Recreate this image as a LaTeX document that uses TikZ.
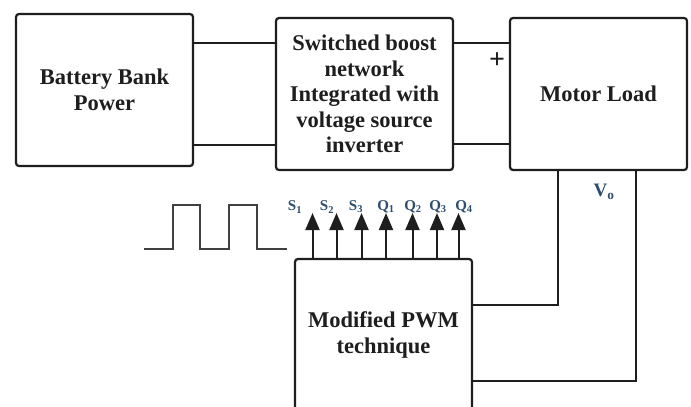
\documentclass[tikz,border=0pt]{standalone}
\usepackage{fontspec}
\setmainfont{Liberation Serif}[BoldFont={Liberation Serif Bold}]
\usetikzlibrary{arrows.meta,calc}
\definecolor{ink}{HTML}{1E1E1E}
\definecolor{lbl}{HTML}{2E4D6E}
\begin{document}
\begin{tikzpicture}[x=1pt,y=1pt,
  blockbox/.style={draw=ink,line width=2.2pt,rounded corners=3pt,minimum width=177pt,minimum height=152pt,inner sep=0pt,align=center,text=ink,font=\bfseries\fontsize{22.5}{25.5}\selectfont},
  wire/.style={draw=ink,line width=2pt},
  sig/.style={draw=ink,line width=2pt,-{Triangle[length=17pt,width=14pt]}},
  siglabel/.style={text=lbl,font=\bfseries\fontsize{15}{15}\selectfont,inner sep=0pt}]
\clip (0,0) rectangle (691,-407);
\fill[white] (0,0) rectangle (691,-407);
\node[blockbox] (bat) at (104.5,-90) {Battery Bank\\Power};
\node[blockbox] (mid) at (364.5,-94) {Switched boost\\network\\Integrated with\\voltage source\\inverter};
\node[blockbox] (mot) at (598.5,-94) {Motor Load};
\node[blockbox,minimum height=171pt] (pwm) at (383.5,-344.5) {};
\node[text=ink,align=center,inner sep=0pt,font=\bfseries\fontsize{22.5}{25.5}\selectfont] (pwmtext) at (383.5,-335) {Modified PWM\\technique};
% power connections
\draw[wire] (bat.east |- 0,-43) -- (mid.west |- 0,-43);
\draw[wire] (bat.east |- 0,-145) -- (mid.west |- 0,-145);
\draw[wire] (mid.east |- 0,-43) -- (mot.west |- 0,-43);
\draw[wire] (mid.east |- 0,-144) -- (mot.west |- 0,-144);
\node[text=ink,font=\bfseries\fontsize{28}{28}\selectfont,inner sep=0pt] (plus) at (497,-61) {+};
% feedback
\draw[wire] (mot.south -| 558,0) |- (pwm.east |- 0,-305);
\draw[wire] (mot.south -| 636,0) |- (pwm.east |- 0,-381);
\node[text=lbl,font=\bfseries\fontsize{19}{19}\selectfont,inner sep=0pt] (vo) at (604,-192) {V\textsubscript{o}};
% gate signals
\foreach \x/\n in {312.5/s1,336.5/s2,361.5/s3,386/q1,412.5/q2,437/q3,458.5/q4}{
  \coordinate (\n) at (\x,-213);
  \draw[sig] (pwm.north -| \x,0) -- (\n);
}
\node[siglabel] (ls1) at (295,-207) {S\textsubscript{1}};
\node[siglabel] (ls2) at (327,-207) {S\textsubscript{2}};
\node[siglabel] (ls3) at (356,-207) {S\textsubscript{3}};
\node[siglabel] (lq1) at (386,-207) {Q\textsubscript{1}};
\node[siglabel] (lq2) at (413,-207) {Q\textsubscript{2}};
\node[siglabel] (lq3) at (438,-207) {Q\textsubscript{3}};
\node[siglabel] (lq4) at (464,-207) {Q\textsubscript{4}};
% pulse waveform
\draw[draw=ink!85,line width=1.6pt] (144,-249) -- (173,-249) -- (173,-205) -- (200,-205) -- (200,-249) -- (229,-249) -- (229,-205) -- (257,-205) -- (257,-249) -- (287,-249);
\end{tikzpicture}
\end{document}
